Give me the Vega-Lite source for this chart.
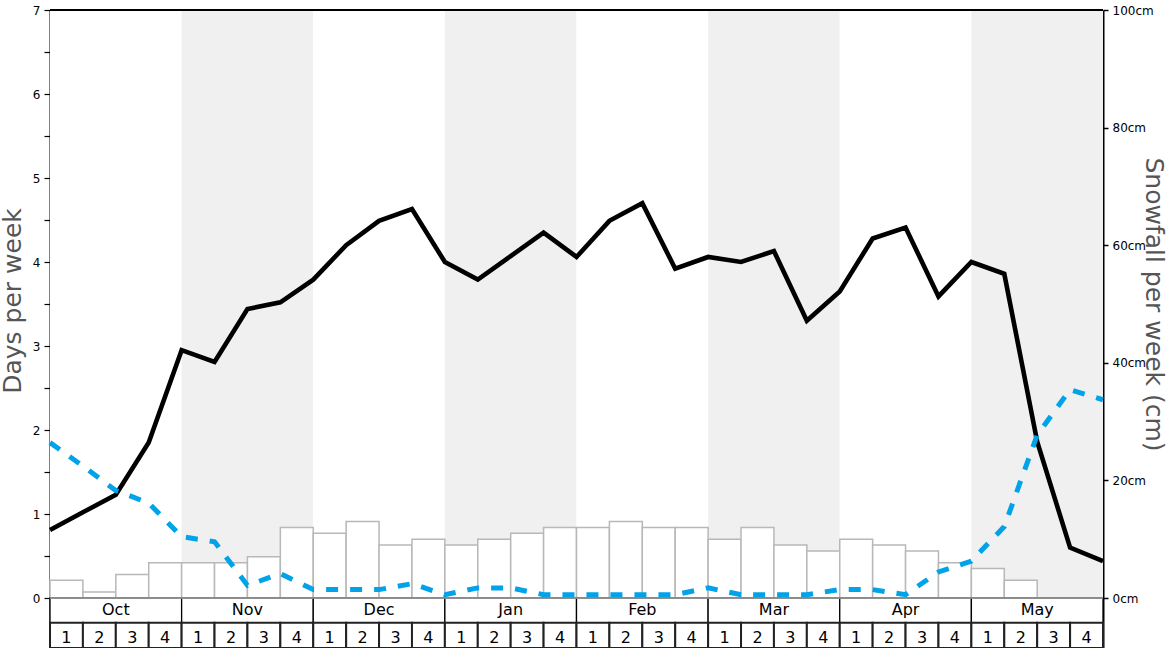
{
  "$schema": "https://vega.github.io/schema/vega-lite/v6.json",
  "width": 1053,
  "height": 638,
  "autosize": "none",
  "padding": {"left": 50, "top": 10, "right": 65, "bottom": 0},
  "background": "white",
  "config": {"font": "DejaVu Sans", "view": {"stroke": null}},
  "datasets": {
    "months": [
      {"month": "Oct", "band": "plain"},
      {"month": "Nov", "band": "shade"},
      {"month": "Dec", "band": "plain"},
      {"month": "Jan", "band": "shade"},
      {"month": "Feb", "band": "plain"},
      {"month": "Mar", "band": "shade"},
      {"month": "Apr", "band": "plain"},
      {"month": "May", "band": "shade"}
    ],
    "weeks": [
      {"wk": "Oct1", "n": 1, "snow": 3}, {"wk": "Oct2", "n": 2, "snow": 1}, {"wk": "Oct3", "n": 3, "snow": 4}, {"wk": "Oct4", "n": 4, "snow": 6},
      {"wk": "Nov1", "n": 1, "snow": 6}, {"wk": "Nov2", "n": 2, "snow": 6}, {"wk": "Nov3", "n": 3, "snow": 7}, {"wk": "Nov4", "n": 4, "snow": 12},
      {"wk": "Dec1", "n": 1, "snow": 11}, {"wk": "Dec2", "n": 2, "snow": 13}, {"wk": "Dec3", "n": 3, "snow": 9}, {"wk": "Dec4", "n": 4, "snow": 10},
      {"wk": "Jan1", "n": 1, "snow": 9}, {"wk": "Jan2", "n": 2, "snow": 10}, {"wk": "Jan3", "n": 3, "snow": 11}, {"wk": "Jan4", "n": 4, "snow": 12},
      {"wk": "Feb1", "n": 1, "snow": 12}, {"wk": "Feb2", "n": 2, "snow": 13}, {"wk": "Feb3", "n": 3, "snow": 12}, {"wk": "Feb4", "n": 4, "snow": 12},
      {"wk": "Mar1", "n": 1, "snow": 10}, {"wk": "Mar2", "n": 2, "snow": 12}, {"wk": "Mar3", "n": 3, "snow": 9}, {"wk": "Mar4", "n": 4, "snow": 8},
      {"wk": "Apr1", "n": 1, "snow": 10}, {"wk": "Apr2", "n": 2, "snow": 9}, {"wk": "Apr3", "n": 3, "snow": 8}, {"wk": "Apr4", "n": 4, "snow": 6},
      {"wk": "May1", "n": 1, "snow": 5}, {"wk": "May2", "n": 2, "snow": 3}, {"wk": "May3", "n": 3, "snow": 0}, {"wk": "May4", "n": 4, "snow": 0}
    ],
    "points": [
      {"pt": 0, "days": 0.81, "blue": 1.85},
      {"pt": 1, "days": 1.02, "blue": 1.57},
      {"pt": 2, "days": 1.23, "blue": 1.28},
      {"pt": 3, "days": 1.85, "blue": 1.13},
      {"pt": 4, "days": 2.95, "blue": 0.73},
      {"pt": 5, "days": 2.81, "blue": 0.67},
      {"pt": 6, "days": 3.44, "blue": 0.15},
      {"pt": 7, "days": 3.52, "blue": 0.29},
      {"pt": 8, "days": 3.79, "blue": 0.10},
      {"pt": 9, "days": 4.20, "blue": 0.10},
      {"pt": 10, "days": 4.49, "blue": 0.10},
      {"pt": 11, "days": 4.63, "blue": 0.17},
      {"pt": 12, "days": 4.00, "blue": 0.04},
      {"pt": 13, "days": 3.79, "blue": 0.12},
      {"pt": 14, "days": 4.07, "blue": 0.12},
      {"pt": 15, "days": 4.35, "blue": 0.04},
      {"pt": 16, "days": 4.06, "blue": 0.04},
      {"pt": 17, "days": 4.49, "blue": 0.04},
      {"pt": 18, "days": 4.70, "blue": 0.04},
      {"pt": 19, "days": 3.92, "blue": 0.04},
      {"pt": 20, "days": 4.06, "blue": 0.12},
      {"pt": 21, "days": 4.00, "blue": 0.04},
      {"pt": 22, "days": 4.13, "blue": 0.04},
      {"pt": 23, "days": 3.30, "blue": 0.04},
      {"pt": 24, "days": 3.65, "blue": 0.10},
      {"pt": 25, "days": 4.28, "blue": 0.10},
      {"pt": 26, "days": 4.41, "blue": 0.04},
      {"pt": 27, "days": 3.59, "blue": 0.31},
      {"pt": 28, "days": 4.00, "blue": 0.44},
      {"pt": 29, "days": 3.86, "blue": 0.85},
      {"pt": 30, "days": 1.86, "blue": 1.94},
      {"pt": 31, "days": 0.60, "blue": 2.48},
      {"pt": 32, "days": 0.44, "blue": 2.36}
    ]
  },
  "resolve": {"scale": {"x": "independent", "y": "independent", "color": "independent"}},
  "layer": [
    {
      "data": {"name": "months"},
      "mark": {"type": "rect"},
      "encoding": {
        "x": {"field": "month", "type": "nominal", "sort": null, "scale": {"paddingInner": 0, "paddingOuter": 0}, "axis": null},
        "y": {"datum": 7, "type": "quantitative", "scale": {"domain": [-0.595238, 7], "nice": false, "zero": false}, "axis": null},
        "y2": {"datum": 0},
        "color": {"field": "band", "type": "nominal", "scale": {"domain": ["shade", "plain"], "range": ["#f0f0f0", "#ffffff"]}, "legend": null}
      }
    },
    {
      "data": {"name": "weeks"},
      "mark": {"type": "bar", "fill": "white", "stroke": "#b8b8b8", "strokeWidth": 1.5},
      "encoding": {
        "x": {"field": "wk", "type": "nominal", "sort": null, "scale": {"paddingInner": 0, "paddingOuter": 0}, "axis": null},
        "y": {
          "field": "snow", "type": "quantitative",
          "scale": {"domain": [-8.5034, 100], "nice": false, "zero": false},
          "axis": {
            "orient": "right", "values": [0, 20, 40, 60, 80, 100],
            "labelExpr": "datum.value + 'cm'",
            "title": "Snowfall per week (cm)", "titleFont": "DejaVu Sans", "titleFontSize": 25, "titleFontWeight": "normal",
            "titleColor": "#555555", "titleX": 42, "titleY": 294, "titleAngle": 90, "titleAlign": "center", "titleBaseline": "alphabetic",
            "labelFont": "DejaVu Sans", "labelFontSize": 12, "labelColor": "black", "labelPadding": 4,
            "tickColor": "black", "tickSize": 5, "tickWidth": 1.5,
            "domain": true, "domainColor": "black", "domainWidth": 2, "grid": false
          }
        }
      }
    },
    {
      "data": {"name": "months"},
      "mark": {"type": "rect", "fill": "white", "stroke": "black", "strokeWidth": 1.3},
      "encoding": {
        "x": {"field": "month", "type": "nominal", "sort": null, "scale": {"paddingInner": 0, "paddingOuter": 0}, "axis": null},
        "y": {"datum": 0, "type": "quantitative", "scale": {"domain": [-0.595238, 7], "nice": false, "zero": false}, "axis": null},
        "y2": {"datum": -0.294}
      }
    },
    {
      "data": {"name": "weeks"},
      "mark": {"type": "rect", "fill": "white", "stroke": "#222222", "strokeWidth": 2},
      "encoding": {
        "x": {"field": "wk", "type": "nominal", "sort": null, "scale": {"paddingInner": 0, "paddingOuter": 0}, "axis": null},
        "y": {"datum": -0.294, "type": "quantitative", "scale": {"domain": [-0.595238, 7], "nice": false, "zero": false}, "axis": null},
        "y2": {"datum": -0.5952}
      }
    },
    {
      "data": {"values": [{}]},
      "mark": {"type": "rule", "color": "#aaaaaa", "strokeWidth": 1.5},
      "encoding": {
        "y": {"datum": 0, "type": "quantitative", "scale": {"domain": [-0.595238, 7], "nice": false, "zero": false}, "axis": null}
      }
    },
    {
      "data": {"values": [{}]},
      "mark": {"type": "rule", "color": "black", "strokeWidth": 2},
      "encoding": {
        "y": {"datum": 7, "type": "quantitative", "scale": {"domain": [-0.595238, 7], "nice": false, "zero": false}, "axis": null}
      }
    },
    {
      "data": {"name": "points"},
      "mark": {"type": "line", "color": "black", "strokeWidth": 4.6, "strokeJoin": "miter"},
      "encoding": {
        "x": {"field": "pt", "type": "quantitative", "scale": {"domain": [0, 32], "nice": false, "zero": false}, "axis": null},
        "y": {
          "field": "days", "type": "quantitative",
          "scale": {"domain": [-0.595238, 7], "nice": false, "zero": false},
          "axis": {
            "orient": "left",
            "values": [0, 0.5, 1, 1.5, 2, 2.5, 3, 3.5, 4, 4.5, 5, 5.5, 6, 6.5, 7],
            "labelExpr": "datum.value % 1 === 0 ? '' + datum.value : ''",
            "title": "Days per week", "titleFont": "DejaVu Sans", "titleFontSize": 25, "titleFontWeight": "normal",
            "titleColor": "#555555", "titleX": -29.5, "titleY": 290.5, "titleAngle": -90, "titleAlign": "center", "titleBaseline": "alphabetic",
            "labelFont": "DejaVu Sans", "labelFontSize": 12, "labelColor": "black", "labelPadding": 4,
            "tickColor": "black", "tickSize": 6, "tickWidth": 1.2,
            "domain": true, "domainColor": "black", "domainWidth": 2, "grid": false
          }
        }
      }
    },
    {
      "data": {"name": "points"},
      "mark": {"type": "line", "color": "#00a2e8", "strokeWidth": 5, "strokeDash": [12, 12]},
      "encoding": {
        "x": {"field": "pt", "type": "quantitative", "scale": {"domain": [0, 32], "nice": false, "zero": false}, "axis": null},
        "y": {"field": "blue", "type": "quantitative", "scale": {"domain": [-0.595238, 7], "nice": false, "zero": false}, "axis": null}
      }
    },
    {
      "data": {"name": "months"},
      "mark": {"type": "text", "fontSize": 16, "font": "DejaVu Sans", "baseline": "middle", "align": "center", "color": "black"},
      "encoding": {
        "x": {"field": "month", "type": "nominal", "sort": null, "scale": {"paddingInner": 0, "paddingOuter": 0}, "axis": null},
        "y": {"datum": -0.142, "type": "quantitative", "scale": {"domain": [-0.595238, 7], "nice": false, "zero": false}, "axis": null},
        "text": {"field": "month"}
      }
    },
    {
      "data": {"name": "weeks"},
      "mark": {"type": "text", "fontSize": 16, "font": "DejaVu Sans", "baseline": "middle", "align": "center", "color": "black"},
      "encoding": {
        "x": {"field": "wk", "type": "nominal", "sort": null, "scale": {"paddingInner": 0, "paddingOuter": 0}, "axis": null},
        "y": {"datum": -0.479, "type": "quantitative", "scale": {"domain": [-0.595238, 7], "nice": false, "zero": false}, "axis": null},
        "text": {"field": "n"}
      }
    }
  ]
}
